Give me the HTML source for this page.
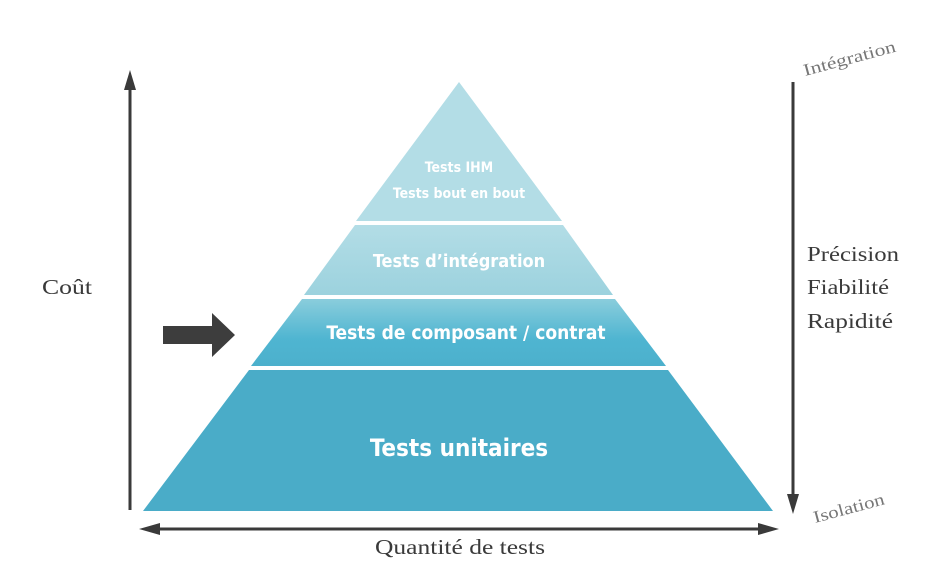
<!DOCTYPE html>
<html><head><meta charset="utf-8"><style>
html,body{margin:0;padding:0;background:#fff;width:939px;height:575px;overflow:hidden}
svg{display:block}
.s{font-family:"Liberation Serif",serif;fill:#3a3a3a}
.p{font-family:"Liberation Sans Narrow","DejaVu Sans Condensed","Liberation Sans",sans-serif;font-weight:bold;fill:#fff;text-anchor:middle}
</style></head><body>
<svg width="939" height="575" viewBox="0 0 939 575">
<defs>
<linearGradient id="g2" x1="0" y1="0" x2="0" y2="1"><stop offset="0" stop-color="#b3dde6"/><stop offset="1" stop-color="#9cd2de"/></linearGradient>
<linearGradient id="g3" x1="0" y1="0" x2="0" y2="1"><stop offset="0" stop-color="#8acddc"/><stop offset="0.6" stop-color="#4fb5d1"/><stop offset="1" stop-color="#4cb0cc"/></linearGradient>
</defs>
<polygon points="459,82 562,221 356,221" fill="#b3dde6"/>
<polygon points="355,225 563,225 613,295 304,295" fill="url(#g2)"/>
<polygon points="302,299 615,299 666,366 251,366" fill="url(#g3)"/>
<polygon points="249,370 668,370 773,511 143,511" fill="#4aacc8"/>
<text class="p" x="459" y="172" font-size="14">Tests IHM</text>
<text class="p" x="459" y="198" font-size="14">Tests bout en bout</text>
<text class="p" x="459" y="267" font-size="18">Tests d’intégration</text>
<text class="p" x="466" y="339" font-size="19">Tests de composant / contrat</text>
<text class="p" x="459" y="456" font-size="24">Tests unitaires</text>
<line x1="130" y1="86" x2="130" y2="510" stroke="#3a3a3a" stroke-width="3"/>
<polygon points="130,70 124,90 136,90" fill="#3a3a3a"/>
<polygon points="163,326 212,326 212,313 235,335 212,357 212,344 163,344" fill="#3d3d3d"/>
<line x1="155" y1="529" x2="762" y2="529" stroke="#3a3a3a" stroke-width="3"/>
<polygon points="139,529 160,523 160,535" fill="#3a3a3a"/>
<polygon points="779,529 758,523 758,535" fill="#3a3a3a"/>
<line x1="793" y1="82" x2="793" y2="498" stroke="#3a3a3a" stroke-width="3"/>
<polygon points="793,514 787,494 799,494" fill="#3a3a3a"/>
<text class="s" x="42" y="294" font-size="21" textLength="50" lengthAdjust="spacingAndGlyphs">Coût</text>
<text class="s" x="375" y="554" font-size="21" textLength="170" lengthAdjust="spacingAndGlyphs">Quantité de tests</text>
<text class="s" x="807" y="261" font-size="21" textLength="92" lengthAdjust="spacingAndGlyphs">Précision</text>
<text class="s" x="807" y="294" font-size="21" textLength="82" lengthAdjust="spacingAndGlyphs">Fiabilité</text>
<text class="s" x="807" y="328" font-size="21" textLength="86" lengthAdjust="spacingAndGlyphs">Rapidité</text>
<text class="s" x="805" y="76" font-size="17" style="fill:#777" textLength="95" lengthAdjust="spacingAndGlyphs" transform="rotate(-15 805 76)">Intégration</text>
<text class="s" x="815" y="523" font-size="17" style="fill:#777" textLength="73" lengthAdjust="spacingAndGlyphs" transform="rotate(-15 815 523)">Isolation</text>
</svg>
</body></html>
